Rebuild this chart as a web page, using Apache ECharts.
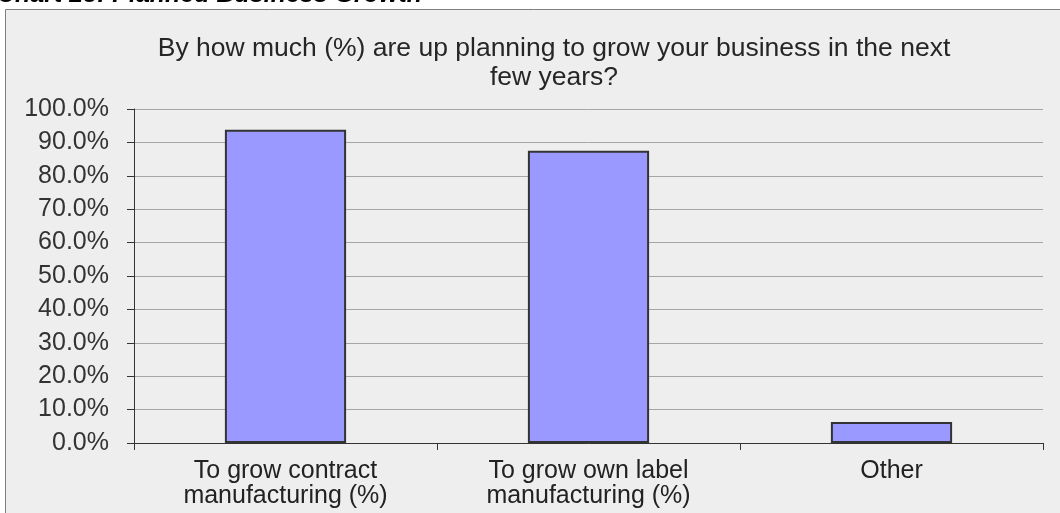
<!DOCTYPE html>
<html>
<head>
<meta charset="utf-8">
<script src="https://cdn.jsdelivr.net/npm/echarts@6/dist/echarts.min.js"></script>
<style>
  html, body { margin: 0; padding: 0; background: #ffffff; }
  #chart { width: 1060px; height: 513px; }
</style>
</head>
<body>
<div id="chart"></div>
<script>
// data
var categories = ['To grow contract\nmanufacturing (%)', 'To grow own label\nmanufacturing (%)', 'Other'];
var values = [93.8, 87.5, 6.3];
var yTicks = { min: 0, max: 100, interval: 10 };

var myChart = echarts.init(document.getElementById('chart'));
var font = '"Liberation Sans", Arial, sans-serif';

var option = {
  backgroundColor: '#ffffff',
  animation: false,
  graphic: [
    {
      type: 'rect',
      shape: { x: 5.5, y: 9.5, width: 1070, height: 520 },
      style: { fill: '#eeeeee', stroke: '#7f7f7f', lineWidth: 1 },
      z: -10
    },
    {
      // page heading above the chart, clipped by the top edge
      type: 'text',
      x: -3, y: 8,
      style: {
        text: 'Chart 25: Planned Business Growth',
        font: 'italic bold 25px ' + font,
        fill: '#000000',
        verticalAlign: 'bottom'
      }
    }
  ],
  title: {
    text: 'By how much (%) are up planning to grow your business in the next\nfew years?',
    left: 549,
    textAlign: 'center',
    top: 29,
    textStyle: {
      fontFamily: font,
      fontSize: 26.5,
      fontWeight: 'normal',
      color: '#262626',
      lineHeight: 29
    }
  },
  grid: { left: 134, right: 17, top: 109, bottom: 70 },
  xAxis: {
    type: 'category',
    data: categories,
    axisLine: { lineStyle: { color: '#333333', width: 1 } },
    axisTick: { show: true, length: 7, lineStyle: { color: '#333333' } },
    axisLabel: {
      margin: 16,
      fontFamily: font,
      fontSize: 25,
      color: '#222222',
      lineHeight: 25
    }
  },
  yAxis: {
    type: 'value',
    min: yTicks.min,
    max: yTicks.max,
    interval: yTicks.interval,
    axisLine: { show: true, lineStyle: { color: '#333333', width: 1 } },
    axisTick: { show: true, length: 7, lineStyle: { color: '#333333' } },
    splitLine: { show: true, lineStyle: { color: '#a6a6a6', width: 1 } },
    axisLabel: {
      margin: 25,
      fontFamily: font,
      fontSize: 25,
      color: '#333333',
      formatter: function (v) { return v.toFixed(1) + '%'; }
    }
  },
  series: [
    {
      type: 'bar',
      data: values,
      barWidth: '40%',
      itemStyle: { color: '#9999ff', borderColor: '#333333', borderWidth: 2 }
    }
  ]
};

myChart.setOption(option);
</script>
</body>
</html>
